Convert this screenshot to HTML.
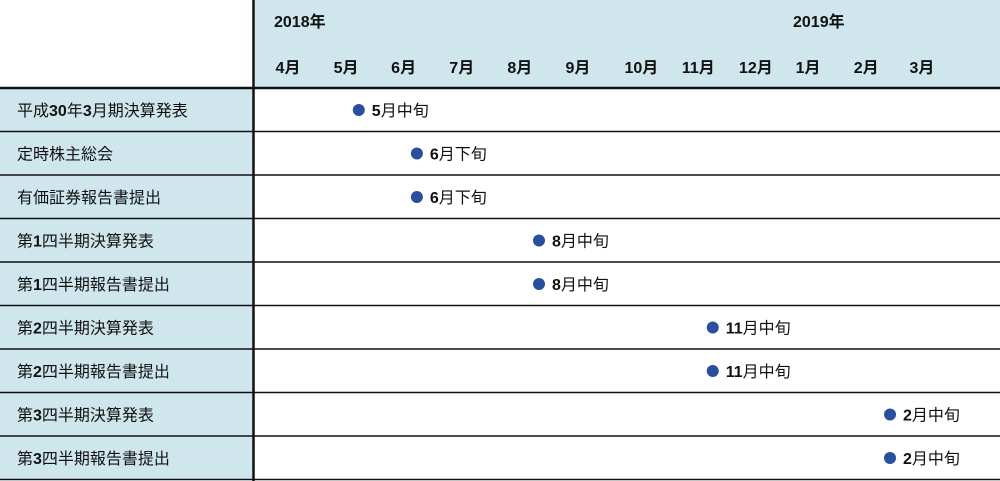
<!DOCTYPE html>
<html><head><meta charset="utf-8"><style>
body{margin:0;background:#fff}
svg{display:block;font-family:"Liberation Sans","Noto Sans CJK JP",sans-serif}
</style></head><body>
<svg id="chart" width="1000" height="481" viewBox="0 0 1000 481">
<rect x="255" y="0" width="745" height="88" fill="#cfe7ec"/>
<g id="g"></g>
</svg>
<script>
const events=["平成<b>30</b>年<b>3</b>月期決算発表","定時株主総会","有価証券報告書提出","第<b>1</b>四半期決算発表","第<b>1</b>四半期報告書提出","第<b>2</b>四半期決算発表","第<b>2</b>四半期報告書提出","第<b>3</b>四半期決算発表","第<b>3</b>四半期報告書提出"];
const months=["4月","5月","6月","7月","8月","9月","10月","11月","12月","1月","2月","3月"];
const monthTicks=[0,0.99,1.97,2.96,3.95,4.94,6.02,6.99,7.97,8.86,9.85,10.8];
const monthPos=[1.7,2.69,2.69,4.77,4.77,7.73,7.73,10.75,10.75];
const dateLabels=["5月中旬","6月下旬","6月下旬","8月中旬","8月中旬","11月中旬","11月中旬","2月中旬","2月中旬"];
const NS="http://www.w3.org/2000/svg";
const g=document.getElementById('g');
const x=m=>259+m*58.7;
const y=i=>88+i*43.5;
function el(t,a){const e=document.createElementNS(NS,t);for(const k in a)e.setAttribute(k,a[k]);g.appendChild(e);return e;}
function rich(e,s){e.innerHTML=s.replace(/<b>/g,'<tspan font-weight="bold">').replace(/<\/b>/g,'</tspan>');}
const y1=el('text',{x:274,y:27,'font-size':16,'font-weight':'bold',fill:'#111'});y1.textContent='2018年';


const y2=el('text',{x:793,y:27,'font-size':16,'font-weight':'bold',fill:'#111'});y2.textContent='2019年';


months.forEach((m,i)=>{const t=el('text',{x:x(monthTicks[i])+29,y:73,'font-size':16,'font-weight':'bold','text-anchor':'middle',fill:'#111'});t.textContent=m;

});
events.forEach((s,i)=>{
const r=el('rect',{x:0,y:y(i),width:253,height:43.5,fill:'#cfe7ec'});


const t=el('text',{x:17,y:y(i)+28,'font-size':16,fill:'#111'});rich(t,s);


const c=el('circle',{cx:x(monthPos[i]),cy:y(i)+22,r:6,fill:'#2a4f9f'});


const d=dateLabels[i].match(/^(\d+)(.*)$/);
const l=el('text',{x:x(monthPos[i])+13,y:y(i)+28,'font-size':16,fill:'#111'});rich(l,'<b>'+d[1]+'</b>'+d[2]);


});
for(let i=0;i<=events.length;i++){const ln=el('line',{x1:0,x2:1000,y1:y(i),y2:y(i),stroke:'#111','stroke-width':i==0?2.5:1.5});

}
const v=el('line',{x1:253.5,x2:253.5,y1:0,y2:481,stroke:'#111','stroke-width':2.5});


</script>
</body></html>
